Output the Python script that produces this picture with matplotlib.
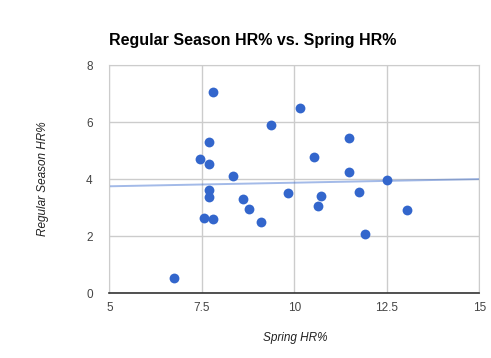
import numpy as np
import matplotlib.pyplot as plt

plt.rcParams['font.family'] = ['Liberation Sans', 'DejaVu Sans']

# spring HR% vs regular season HR%
spring_hr = [7.81, 10.15, 9.37, 7.69, 7.46, 7.69, 8.34, 7.69, 7.69, 9.84,
             8.62, 8.78, 7.57, 7.81, 9.09, 6.76, 11.47, 10.52, 11.47, 12.50,
             10.71, 10.64, 11.76, 13.04, 11.91]
season_hr = [7.05, 6.51, 5.89, 5.32, 4.72, 4.53, 4.13, 3.61, 3.37, 3.51,
             3.30, 2.96, 2.65, 2.60, 2.51, 0.54, 5.46, 4.77, 4.26, 3.96,
             3.41, 3.06, 3.55, 2.93, 2.08]

x_ticks = [5, 7.5, 10, 12.5, 15]
x_labels = ['5', '7.5', '10', '12.5', '15']
y_ticks = [0, 2, 4, 6, 8]

fig = plt.figure(figsize=(4.91, 3.58), dpi=100)
ax = fig.add_axes([109.3/491, 1-293.3/358, (479.3-109.3)/491, (293.3-65.3)/358])

# linear trendline
slope, icpt = np.polyfit(spring_hr, season_hr, 1)
xs = np.array([5, 15])
ax.plot(xs, slope*xs + icpt, color='#3366cc', alpha=0.45, lw=1.4, zorder=2)

ax.scatter(spring_hr, season_hr, s=50, color='#3366cc', zorder=3, linewidths=0)

ax.set_xlim(5, 15)
ax.set_ylim(0, 8)
ax.set_xticks(x_ticks)
ax.set_xticklabels(x_labels)
ax.set_yticks(y_ticks)
ax.grid(True, color='#cccccc', lw=1)
ax.set_axisbelow(True)
for s in ['top', 'right', 'left']:
    ax.spines[s].set_color('#cccccc')
ax.spines['bottom'].set_color('#333333')
ax.spines['bottom'].set_linewidth(1.2)
ax.tick_params(length=0, colors='#444444', labelsize=8.5)
ax.tick_params(axis='x', pad=6)
ax.tick_params(axis='y', pad=12)

fig.text(295/491, 1-338/358, 'Spring HR%', style='italic', fontsize=8.5,
         color='#222222', ha='center', va='center')
fig.text(43/491, 1-179/358, 'Regular Season HR%', style='italic', fontsize=8.5,
         color='#222222', ha='center', va='center', rotation=90)
fig.text(109/491, 1-40/358, 'Regular Season HR% vs. Spring HR%', fontsize=11.5,
         fontweight='bold', va='center', ha='left')

fig.savefig('out.png', dpi=100)
